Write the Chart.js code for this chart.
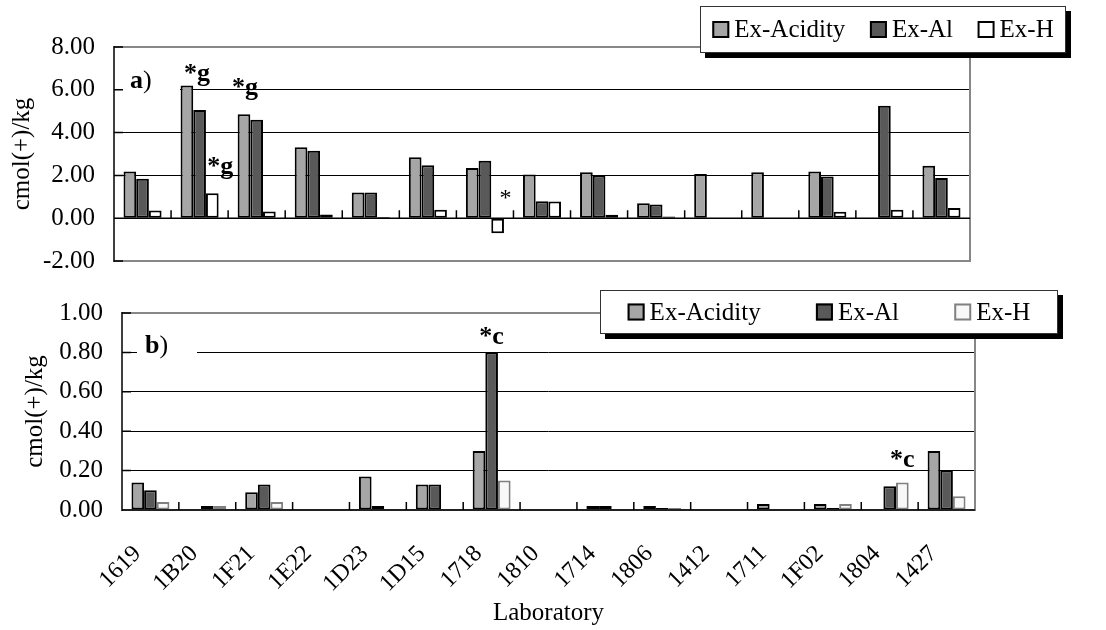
<!DOCTYPE html>
<html>
<head>
<meta charset="utf-8">
<script src="https://cdn.jsdelivr.net/npm/chart.js@4.4.0/dist/chart.umd.min.js"></script>
<style>
  body { margin: 0; background: #fff; width: 1106px; height: 630px; overflow: hidden; position: relative; }
  #boxA { position: absolute; left: 0; top: 0; width: 1106px; height: 270px; }
  #boxB { position: absolute; left: 0; top: 270px; width: 1106px; height: 360px; }
</style>
</head>
<body>
<div id="boxA"><canvas id="chartA"></canvas></div>
<div id="boxB"><canvas id="chartB"></canvas></div>
<script>
const labs = ['1619', '1B20', '1F21', '1E22', '1D23', '1D15', '1718', '1810', '1714', '1806', '1412', '1711', '1F02', '1804', '1427'];
const seriesNames = ['Ex-Acidity', 'Ex-Al', 'Ex-H'];

// a) exchangeable acidity etc, cmol(+)/kg
const acidA = [2.18, 6.20, 4.86, 3.32, 1.20, 2.85, 2.35, 2.04, 2.15, 0.70, 2.07, 2.15, 2.18, null, 2.45];
const alA   = [1.84, 5.06, 4.60, 3.15, 1.20, 2.48, 2.68, 0.79, 2.00, 0.64, null, null, 1.95, 5.26, 1.88];
const hA    = [0.36, 1.17, 0.31, 0.17, 0.06, 0.39, -0.70, 0.78, 0.16, 0.08, null, null, 0.30, 0.39, 0.48];
const ticksA = [-2, 0, 2, 4, 6, 8];

// b)
const acidB = [0.14, null, 0.09, null, 0.17, 0.13, 0.30, null, 0.02, 0.02, null, 0.03, 0.03, null, 0.30];
const alB   = [0.10, 0.02, 0.13, null, 0.02, 0.13, 0.80, null, 0.02, 0.01, null, null, 0.01, 0.12, 0.20];
const hB    = [0.04, 0.02, 0.04, null, null, null, 0.15, null, null, 0.01, null, null, 0.03, 0.14, 0.07];
const ticksB = [0, 0.2, 0.4, 0.6, 0.8, 1.0];

// flagged results: category index, dataset index, mark
const notesA = [{ i: 1, ds: 0, text: '*g' }, { i: 2, ds: 0, text: '*g' }, { i: 1, ds: 2, text: '*g' }, { i: 6, ds: 2, text: '*' }];
const notesB = [{ i: 6, ds: 1, text: '*c' }, { i: 13, ds: 2, text: '*c' }];

const FONT = '"Liberation Serif", "Times New Roman", serif';
Chart.defaults.font.family = FONT;
Chart.defaults.color = '#000';

function makeDatasets(acid, al, h, hFill, hBorder) {
  return [
    { label: seriesNames[0], data: acid, backgroundColor: '#a6a6a6', borderColor: '#000' },
    { label: seriesNames[1], data: al, backgroundColor: '#595959', borderColor: '#000' },
    { label: seriesNames[2], data: h, backgroundColor: hFill, borderColor: hBorder },
  ].map(d => Object.assign(d, { borderWidth: 2, borderSkipped: false, categoryPercentage: 0.667, barPercentage: 1 }));
}

// grey frame, black axis, inside tick marks
const framePlugin = {
  id: 'frame',
  afterDatasetsDraw(chart) {
    const { ctx, chartArea: a, scales: { y } } = chart;
    const y0 = y.getPixelForValue(0);
    ctx.save();
    ctx.strokeStyle = '#878787';
    ctx.lineWidth = 2;
    ctx.beginPath();
    ctx.moveTo(a.left, a.top); ctx.lineTo(a.right, a.top);
    ctx.lineTo(a.right, a.bottom); ctx.lineTo(a.left, a.bottom);
    ctx.stroke();
    ctx.strokeStyle = '#000';
    ctx.lineWidth = 1.5;
    ctx.beginPath();
    ctx.moveTo(a.left, a.top - 1); ctx.lineTo(a.left, a.bottom + 1);
    ctx.moveTo(a.left, y0); ctx.lineTo(a.right, y0);
    y.ticks.forEach(t => {
      const p = y.getPixelForValue(t.value);
      ctx.moveTo(a.left, p); ctx.lineTo(a.left + 9, p);
    });
    const n = chart.data.labels.length, w = (a.right - a.left) / n;
    for (let k = 1; k < n; k++) {
      const px = a.left + k * w;
      ctx.moveTo(px, y0); ctx.lineTo(px, y0 - 8);
    }
    ctx.stroke();
    ctx.restore();
  }
};

// panel letter on a white box, and the asterisk marks
const notesPlugin = {
  id: 'notes',
  beforeDatasetsDraw(chart, args, o) {
    const ctx = chart.ctx, t = o.tag;
    ctx.save();
    ctx.fillStyle = '#fff';
    ctx.fillRect(t.bx, t.by, t.bw, t.bh);
    ctx.fillStyle = '#000';
    ctx.textAlign = 'left';
    ctx.textBaseline = 'alphabetic';
    ctx.font = `bold 26px ${FONT}`;
    ctx.fillText(t.letter, t.x, t.y);
    const lw = ctx.measureText(t.letter).width;
    ctx.font = `26px ${FONT}`;
    ctx.fillText(')', t.x + lw, t.y);
    ctx.restore();
  },
  afterDatasetsDraw(chart, args, o) {
    const ctx = chart.ctx;
    ctx.save();
    ctx.fillStyle = '#000';
    ctx.textAlign = 'center';
    ctx.textBaseline = 'alphabetic';
    o.items.forEach((n, k) => {
      const bar = chart.getDatasetMeta(n.ds).data[n.i];
      const off = o.offsets[k];
      ctx.font = `${off.bold ? 'bold ' : ''}${off.size}px ${FONT}`;
      ctx.fillText(n.text, bar.x + off.dx, Math.min(bar.y, bar.base) - off.dy);
    });
    ctx.restore();
  }
};

// boxed legend with a drop shadow
const legendPlugin = {
  id: 'boxLegend',
  afterDraw(chart, args, o) {
    const ctx = chart.ctx;
    const { x, y, w, h } = o.box;
    ctx.save();
    ctx.fillStyle = '#000';
    ctx.fillRect(x + 5, y + 5, w, h);
    ctx.fillStyle = '#fff';
    ctx.fillRect(x, y, w, h);
    ctx.strokeStyle = '#333';
    ctx.lineWidth = 1;
    ctx.strokeRect(x + 0.5, y + 0.5, w - 1, h - 1);
    ctx.font = `25px ${FONT}`;
    const sq = 17, gapT = 5;
    const items = chart.data.datasets.map(d => ({ d, tw: ctx.measureText(d.label).width }));
    const total = items.reduce((s, it) => s + sq + gapT + it.tw, 0);
    const gap = (w - total) / items.length;
    let cx = x + gap / 2;
    const cy = y + h / 2;
    items.forEach(({ d, tw }) => {
      ctx.fillStyle = d.backgroundColor;
      ctx.fillRect(cx, cy - sq / 2, sq, sq);
      ctx.strokeStyle = d.borderColor;
      ctx.lineWidth = 2;
      ctx.strokeRect(cx + 1, cy - sq / 2 + 1, sq - 2, sq - 2);
      ctx.fillStyle = '#000';
      ctx.textAlign = 'left';
      ctx.textBaseline = 'middle';
      ctx.fillText(d.label, cx + sq + gapT, cy + 1);
      cx += sq + gapT + tw + gap;
    });
    ctx.restore();
  }
};

function gridColor(ticks) {
  return c => {
    const v = c.tick.value;
    return (v === 0 || v === ticks[0] || v === ticks[ticks.length - 1]) ? 'rgba(0,0,0,0)' : '#000';
  };
}

function yScale(ticks, width, titlePad) {
  return {
    min: ticks[0],
    max: ticks[ticks.length - 1],
    afterBuildTicks: s => { s.ticks = ticks.map(v => ({ value: v })); },
    afterFit: s => { s.width = width; s.paddingTop = 0; s.paddingBottom = 0; },
    grid: { drawTicks: false, color: gridColor(ticks), lineWidth: 1 },
    border: { display: false },
    ticks: { padding: 19, font: { size: 25 }, callback: v => Number(v).toFixed(2) },
    title: { display: true, text: 'cmol(+)/kg', font: { size: 25 }, padding: { top: titlePad, bottom: 0 } }
  };
}

new Chart(document.getElementById('chartA'), {
  type: 'bar',
  data: { labels: labs, datasets: makeDatasets(acidA, alA, hA, '#ffffff', '#000') },
  options: {
    responsive: true,
    maintainAspectRatio: false,
    animation: false,
    devicePixelRatio: 1,
    layout: { padding: { left: 0, top: 47, right: 136, bottom: 9 } },
    scales: {
      x: { display: false },
      y: yScale(ticksA, 114, 7)
    },
    plugins: {
      legend: { display: false },
      tooltip: { enabled: false },
      boxLegend: { box: { x: 700, y: 6, w: 366, h: 47 } },
      notes: {
        items: notesA,
        offsets: [
          { dx: 10, dy: 5, size: 26, bold: true },
          { dx: 1, dy: 19, size: 26, bold: true },
          { dx: 8, dy: 19, size: 26, bold: true },
          { dx: 8, dy: 14, size: 24, bold: false }
        ],
        tag: { letter: 'a', x: 130, y: 88, bx: 123, by: 66, bw: 57, bh: 30 }
      }
    }
  },
  plugins: [framePlugin, notesPlugin, legendPlugin]
});

new Chart(document.getElementById('chartB'), {
  type: 'bar',
  data: { labels: labs, datasets: makeDatasets(acidB, alB, hB, '#f8f8f8', '#808080') },
  options: {
    responsive: true,
    maintainAspectRatio: false,
    animation: false,
    devicePixelRatio: 1,
    layout: { padding: { left: 0, top: 43, right: 131, bottom: 0 } },
    scales: {
      x: {
        grid: { display: false, drawTicks: false },
        border: { display: false },
        ticks: { minRotation: 45, maxRotation: 45, autoSkip: false, padding: 30, labelOffset: -13, font: { size: 24 } },
        title: { display: true, text: 'Laboratory', font: { size: 25 }, padding: { top: 0, bottom: 2 } },
        afterFit: s => { s.height = 120; }
      },
      y: yScale(ticksB, 122, 20)
    },
    plugins: {
      legend: { display: false },
      tooltip: { enabled: false },
      boxLegend: { box: { x: 600, y: 20, w: 458, h: 44 } },
      notes: {
        items: notesB,
        offsets: [
          { dx: 0, dy: 8, size: 26, bold: true },
          { dx: 0, dy: 15, size: 26, bold: true }
        ],
        tag: { letter: 'b', x: 145, y: 83, bx: 137, by: 60, bw: 60, bh: 30 }
      }
    }
  },
  plugins: [framePlugin, notesPlugin, legendPlugin]
});
</script>
</body>
</html>
